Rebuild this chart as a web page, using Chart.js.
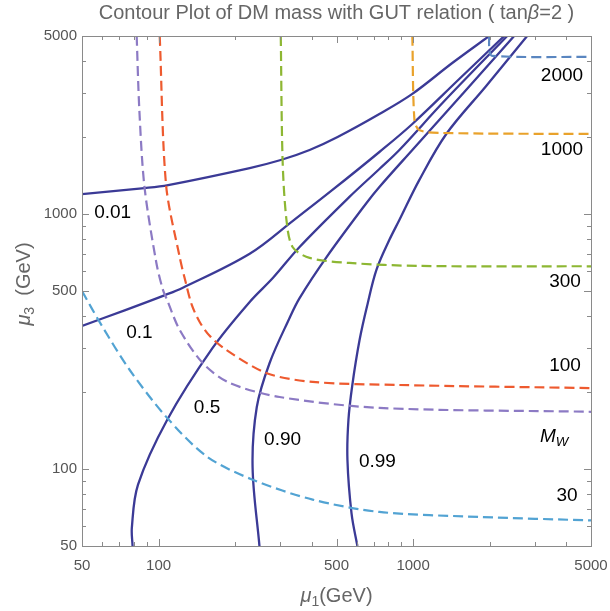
<!DOCTYPE html>
<html>
<head>
<meta charset="utf-8">
<script src="https://cdn.jsdelivr.net/npm/chart.js@4.4.1/dist/chart.umd.min.js"></script>
<style>
  html, body { margin: 0; padding: 0; background: #fff; }
  #wrap { width: 610px; height: 611px; }
</style>
</head>
<body>
<div id="wrap"><canvas id="contourChart" width="610" height="611"></canvas></div>
<script>
// ===== Axis ticks (log scale, both axes) =====
const tickValues = [50, 60, 70, 80, 90, 100, 200, 300, 400, 500, 600, 700, 800, 900, 1000, 2000, 3000, 4000, 5000];
const tickLabels = [50, 100, 500, 1000, 5000];

// ===== Solid contours (mixing) =====
const mix001X = [50, 88, 109, 228, 302, 392, 505, 737, 993, 1425, 1990];
const mix001Y = [1200, 1267, 1302, 1518, 1632, 1787, 2009, 2472, 2965, 3918, 5000];

const mix01X = [50, 74, 106, 124, 228, 336, 482, 737, 993, 1518, 2280];
const mix01Y = [365, 421, 482, 514, 700, 940, 1245, 1754, 2259, 3390, 5000];

const mix05X = [79, 78.5, 83, 108, 163, 228, 281, 358, 562, 737, 883, 1315, 2343];
const mix05Y = [50, 59, 87, 156, 299, 453, 562, 744, 1169, 1505, 1787, 2754, 5000];

const mix090X = [249, 234, 243, 273, 327, 358, 457, 656, 737, 993, 1589, 2495];
const mix090Y = [50, 102, 175, 261, 392, 469, 679, 1107, 1279, 1787, 3017, 5000];

const mix099X = [604, 573, 552, 557, 577, 616, 661, 717, 806, 883, 1057, 1350, 1937, 2806];
const mix099Y = [50, 67, 109, 156, 214, 321, 441, 604, 792, 949, 1361, 2064, 3184, 5000];

// ===== Dashed contours (DM mass) =====
const mass30X = [50, 59, 77, 108, 155, 234, 403, 737, 1819, 5000];
const mass30Y = [500, 374, 245, 159, 112, 91, 76, 68, 65, 63];

const massMwX = [82, 84, 88, 98, 104, 108, 121, 149, 190, 299, 737, 5000];
const massMwY = [5000, 2564, 1279, 644, 505, 461, 352, 261, 218, 192, 174, 168];

const mass100X = [101, 107, 121, 128, 135, 145, 159, 185, 266, 403, 883, 5000];
const mass100Y = [5000, 1302, 679, 537, 441, 378, 333, 293, 238, 220, 214, 208];

const mass300X = [302, 307, 318, 336, 392, 562, 1057, 5000];
const mass300Y = [5000, 1632, 949, 744, 674, 644, 627, 625];

const mass1000X = [993, 1012, 1057, 1267, 5000];
const mass1000Y = [5000, 2343, 2139, 2084, 2064];

const mass2000X = [1990, 1995, 2047, 5000];
const mass2000Y = [5000, 4400, 4176, 4137];

// ===== Contour labels =====
const labelText = ["0.01", "0.1", "0.5", "0.90", "0.99", "2000", "1000", "300", "100", "MW", "30"];
const labelX = [66, 84, 155, 307, 724, 3846, 3846, 3954, 3954, 3580, 4025];
const labelY = [1012, 342, 174, 130, 107, 3484, 1787, 542, 254, 134, 79];

// ===== Helpers =====
function pts(xs, ys) {
  return xs.map((x, i) => ({ x: x, y: ys[i] }));
}

function solid(xs, ys) {
  return {
    data: pts(xs, ys),
    showLine: true,
    borderColor: "#3b3a96",
    borderWidth: 2.3,
    pointRadius: 0,
    tension: 0.35
  };
}

function dashed(xs, ys, color) {
  return {
    data: pts(xs, ys),
    showLine: true,
    borderColor: color,
    borderWidth: 2.2,
    borderDash: [10, 5],
    pointRadius: 0,
    tension: 0.3
  };
}

const FONT = "'Liberation Sans', Arial, sans-serif";

// draw a run of text pieces: {t, italic, sub}
function drawRich(ctx, parts, x, y, size, color) {
  const fontOf = p => (p.italic ? "italic " : "") + (p.sub ? size * 0.7 : size) + "px " + FONT;
  let total = 0;
  parts.forEach(p => { ctx.font = fontOf(p); total += ctx.measureText(p.t).width; });
  let cx = x - total / 2;
  ctx.fillStyle = color;
  ctx.textAlign = "left";
  ctx.textBaseline = "middle";
  parts.forEach(p => {
    ctx.font = fontOf(p);
    ctx.fillText(p.t, cx, p.sub ? y + size * 0.3 : y);
    cx += ctx.measureText(p.t).width;
  });
}

// ===== Frame, inward ticks, titles, contour labels =====
const decorations = {
  id: "decorations",
  afterDraw(chart) {
    const ctx = chart.ctx;
    const a = chart.chartArea;
    const xs = chart.scales.x;
    const ys = chart.scales.y;
    ctx.save();

    // frame
    ctx.strokeStyle = "#8a8a8a";
    ctx.lineWidth = 1;
    ctx.strokeRect(a.left + 0.5, a.top + 0.5, a.right - a.left, a.bottom - a.top);

    // ticks pointing inward on all sides
    ctx.beginPath();
    tickValues.forEach(v => {
      const len = tickLabels.includes(v) ? 7 : 4;
      const px = Math.round(xs.getPixelForValue(v)) + 0.5;
      const py = Math.round(ys.getPixelForValue(v)) + 0.5;
      ctx.moveTo(px, a.bottom); ctx.lineTo(px, a.bottom - len);
      ctx.moveTo(px, a.top); ctx.lineTo(px, a.top + len);
      ctx.moveTo(a.left, py); ctx.lineTo(a.left + len, py);
      ctx.moveTo(a.right, py); ctx.lineTo(a.right - len, py);
    });
    ctx.stroke();

    // chart title
    drawRich(ctx, [
      { t: "Contour Plot of DM mass with GUT relation ( tan" },
      { t: "β", italic: true },
      { t: "=2 )" }
    ], (a.left + a.right) / 2, 13, 20, "#666");

    // x axis title
    drawRich(ctx, [
      { t: "μ", italic: true },
      { t: "1", sub: true },
      { t: "(GeV)" }
    ], (a.left + a.right) / 2, 596, 20, "#666");

    // y axis title
    ctx.save();
    ctx.translate(24, 284);
    ctx.rotate(-Math.PI / 2);
    drawRich(ctx, [
      { t: "μ", italic: true },
      { t: "3", sub: true },
      { t: "  (GeV)" }
    ], 0, 0, 20, "#666");
    ctx.restore();

    // contour labels
    labelText.forEach((t, i) => {
      const px = xs.getPixelForValue(labelX[i]);
      const py = ys.getPixelForValue(labelY[i]);
      if (t === "MW") {
        drawRich(ctx, [{ t: "M", italic: true }, { t: "W", italic: true, sub: true }], px, py, 19, "#000");
      } else {
        drawRich(ctx, [{ t: t }], px, py, 19, "#000");
      }
    });

    ctx.restore();
  }
};

// ===== Chart =====
const ctx = document.getElementById("contourChart");

new Chart(ctx, {
  type: "scatter",
  data: {
    datasets: [
      dashed(mass30X, mass30Y, "#52a3d3"),
      dashed(massMwX, massMwY, "#8c7ac4"),
      dashed(mass100X, mass100Y, "#ee5a2f"),
      dashed(mass300X, mass300Y, "#8db733"),
      dashed(mass1000X, mass1000Y, "#e9a22b"),
      dashed(mass2000X, mass2000Y, "#5a86c0"),
      solid(mix001X, mix001Y),
      solid(mix01X, mix01Y),
      solid(mix05X, mix05Y),
      solid(mix090X, mix090Y),
      solid(mix099X, mix099Y)
    ]
  },
  options: {
    responsive: false,
    animation: false,
    devicePixelRatio: 1,
    layout: { padding: { left: 0, top: 36, right: 19, bottom: 0 } },
    plugins: {
      legend: { display: false },
      tooltip: { enabled: false }
    },
    scales: {
      x: {
        type: "logarithmic",
        min: 50,
        max: 5000,
        grid: { display: false, drawTicks: false },
        border: { display: false },
        afterBuildTicks: s => { s.ticks = tickValues.map(v => ({ value: v })); },
        afterFit: s => { s.height = 65; s.paddingLeft = 0; s.paddingRight = 0; },
        ticks: {
          autoSkip: false,
          maxRotation: 0,
          padding: 11,
          color: "#555",
          font: { family: FONT, size: 15 },
          callback: v => (tickLabels.includes(v) ? String(v) : "")
        }
      },
      y: {
        type: "logarithmic",
        min: 50,
        max: 5000,
        grid: { display: false, drawTicks: false },
        border: { display: false },
        afterBuildTicks: s => { s.ticks = tickValues.map(v => ({ value: v })); },
        afterFit: s => { s.width = 82; s.paddingTop = 0; s.paddingBottom = 0; },
        ticks: {
          autoSkip: false,
          padding: 5,
          color: "#555",
          font: { family: FONT, size: 15 },
          callback: v => (tickLabels.includes(v) ? String(v) : "")
        }
      }
    }
  },
  plugins: [decorations]
});
</script>
</body>
</html>
